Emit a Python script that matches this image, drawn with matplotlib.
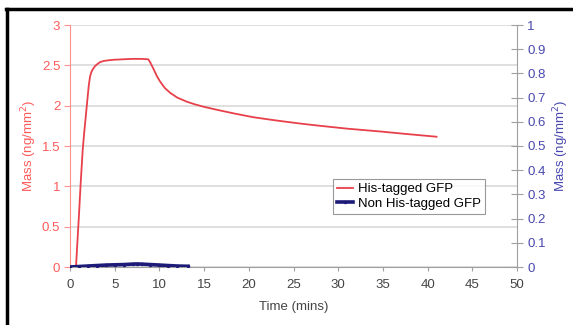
import numpy as np
import matplotlib
matplotlib.use('Agg')
from matplotlib import pyplot as plt
from matplotlib.lines import Line2D

plt.rcParams['font.family'] = ['Liberation Sans', 'DejaVu Sans']

# His-tagged GFP (left axis)
his_time = [0.5, 0.67, 1.0, 1.2, 1.42, 1.6, 1.76, 1.94, 2.1, 2.24, 2.4, 2.6, 2.8, 3.0, 3.36, 3.8,
            4.5, 5, 6, 7, 8, 8.76, 9.0, 9.32, 9.7, 10.07, 10.6, 11.19, 12, 13.05, 14, 15,
            16.8, 18.5, 20.5, 22.5, 24.2, 26, 28, 31, 34.7, 38, 41]
his_mass = [0, 0, 0.64, 1.05, 1.45, 1.68, 1.86, 2.07, 2.25, 2.36, 2.42, 2.46, 2.49, 2.51, 2.54, 2.555,
            2.565, 2.57, 2.575, 2.58, 2.58, 2.575, 2.53, 2.46, 2.37, 2.30, 2.22, 2.16, 2.10, 2.05, 2.015, 1.985,
            1.94, 1.90, 1.857, 1.825, 1.80, 1.775, 1.75, 1.715, 1.68, 1.645, 1.615]

# Non His-tagged GFP (right axis)
non_time = [0, 1, 2, 3, 4, 5, 6, 7, 7.5, 8, 9, 10, 11, 12, 13.2]
non_mass = [0, 0.002, 0.004, 0.006, 0.008, 0.009, 0.010, 0.012, 0.0125, 0.012, 0.010, 0.008, 0.006, 0.004, 0.003]

left_ticks = [0, 0.5, 1, 1.5, 2, 2.5, 3]
left_labels = ['0', '0.5', '1', '1.5', '2', '2.5', '3']
right_ticks = [0, 0.1, 0.2, 0.3, 0.4, 0.5, 0.6, 0.7, 0.8, 0.9, 1]
right_labels = ['0', '0.1', '0.2', '0.3', '0.4', '0.5', '0.6', '0.7', '0.8', '0.9', '1']
x_ticks = [0, 5, 10, 15, 20, 25, 30, 35, 40, 45, 50]

red = '#e8404a'
red_txt = '#ff5a5a'
blue = '#1c1c78'
blue_txt = '#4848b0'
gray = '#a0a0a0'

fig = plt.figure(figsize=(5.73, 3.25), dpi=100)
ax = fig.add_axes([70/573, 58/325, 447/573, 242/325])
ax2 = ax.twinx()

ax.set_xlim(0, 50)
ax.set_ylim(0, 3)
ax2.set_ylim(0, 1)

ax.set_yticks(left_ticks)
ax.set_yticklabels(left_labels)
ax2.set_yticks(right_ticks)
ax2.set_yticklabels(right_labels)
ax.set_xticks(x_ticks)

ax.grid(axis='y', color='#dcdcdc', lw=1.3)
ax.set_axisbelow(True)

l1, = ax.plot(his_time, his_mass, color=red, lw=1.3, label='His-tagged GFP')
l2, = ax2.plot(non_time, non_mass, color=blue, lw=2.6, marker='o', ms=1.5, label='Non His-tagged GFP')

for a in (ax, ax2):
    a.spines['top'].set_visible(False)
ax.spines['left'].set_color('#ff9090')
ax.spines['bottom'].set_color(gray)
ax.spines['right'].set_visible(False)
ax2.spines['left'].set_visible(False)
ax2.spines['bottom'].set_visible(False)
ax2.spines['right'].set_color(gray)

ax.tick_params(axis='y', colors='#ff9090', labelcolor=red_txt, labelsize=9.5, length=4, pad=3)
ax.tick_params(axis='x', colors=gray, labelcolor='#444444', labelsize=9.5, length=3, pad=6)
ax2.tick_params(axis='y', colors=gray, labelcolor=blue_txt, labelsize=9.5, direction='inout', length=9, pad=3)

ax.set_ylabel('Mass (ng/mm$^2$)', color=red_txt, fontsize=9.5, labelpad=2)
ax2.set_ylabel('Mass (ng/mm$^2$)', color=blue_txt, fontsize=9.5, rotation=90, labelpad=4)
ax.set_xlabel('Time (mins)', color='#444444', fontsize=9.5, labelpad=7)

leg = ax2.legend(handles=[l1, l2], loc='lower left', bbox_to_anchor=(0.588, 0.219),
                 borderaxespad=0, fontsize=9.5, frameon=True, fancybox=False,
                 handlelength=1.2, handletextpad=0.4, borderpad=0.3, labelspacing=0.2)
leg.get_frame().set_edgecolor('#808080')
leg.get_frame().set_linewidth(0.8)

# black frame of the original figure
fig.add_artist(Line2D([7/573, 7/573], [0, 1 - 9/325], color='black', lw=2.5, transform=fig.transFigure))
fig.add_artist(Line2D([6/573, 1], [1 - 9/325, 1 - 9/325], color='black', lw=2.5, transform=fig.transFigure))

fig.savefig('out.png', dpi=100)
